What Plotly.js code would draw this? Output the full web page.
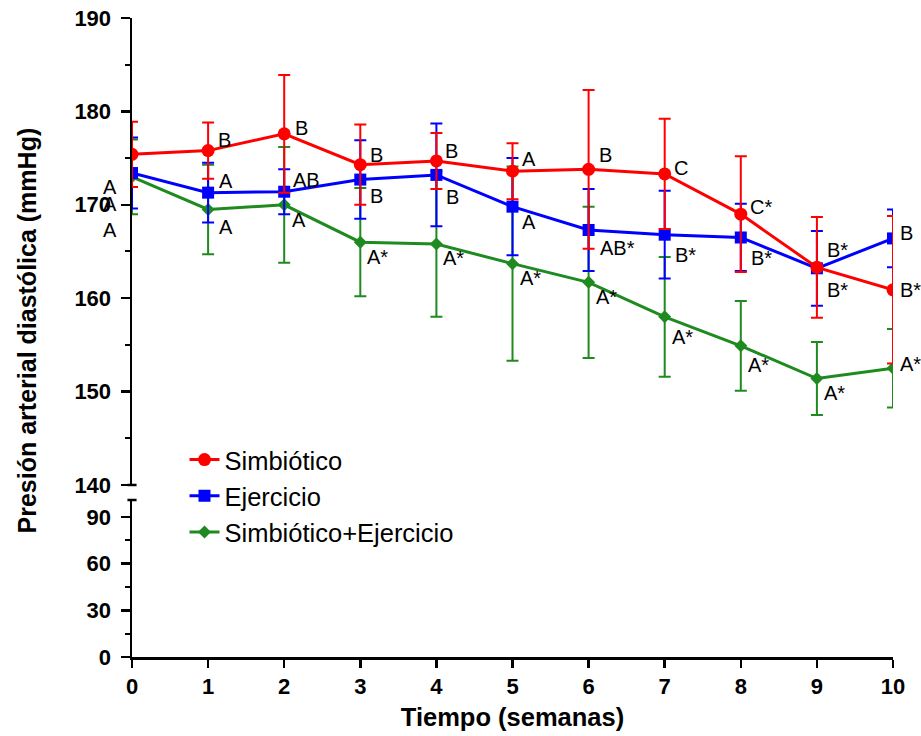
<!DOCTYPE html>
<html>
<head>
<meta charset="utf-8">
<script src="https://cdn.plot.ly/plotly-3.0.1.min.js"></script>
<style>html,body{margin:0;padding:0;background:#fff;}#chart{width:921px;height:736px;}</style>
</head>
<body>
<div id="chart"></div>
<script>
// ---- data ----
const weeks = [0, 1, 2, 3, 4, 5, 6, 7, 8, 9, 10];

const simbioticoMean = [175.4, 175.8, 177.6, 174.3, 174.7, 173.6, 173.8, 173.3, 169.0, 163.3, 160.9];
const simbioticoSD   = [3.5, 3.0, 6.3, 4.3, 3.0, 3.0, 8.5, 5.9, 6.2, 5.4, 7.9];
const simbioticoLetters = ['A', 'B', 'B', 'B', 'B', 'A', 'B', 'C', 'C*', 'B*', 'B*'];

const ejercicioMean = [173.4, 171.3, 171.4, 172.7, 173.2, 169.8, 167.3, 166.8, 166.5, 163.2, 166.4];
const ejercicioSD   = [3.8, 3.2, 2.4, 4.2, 5.5, 5.2, 4.4, 4.7, 3.6, 4.0, 3.1];
const ejercicioLetters = ['A', 'A', 'AB', 'B', 'B', 'A', 'AB*', 'B*', 'B*', 'B*', 'B'];

const combinadoMean = [173.0, 169.5, 170.0, 166.0, 165.8, 163.7, 161.7, 158.0, 154.9, 151.4, 152.5];
const combinadoSD   = [4.0, 4.8, 6.2, 5.8, 7.8, 10.4, 8.1, 6.4, 4.8, 3.9, 4.2];
const combinadoLetters = ['A', 'A', 'A', 'A*', 'A*', 'A*', 'A*', 'A*', 'A*', 'A*', 'A*'];

const seriesNames = ['Simbiótico', 'Ejercicio', 'Simbiótico+Ejercicio'];
const upperTicks = [140, 150, 160, 170, 180, 190];
const lowerTicks = [0, 30, 60, 90];

// ---- label placement (screen px: [dx, dy], dy positive = down) ----
const simbioticoLabelOffset = [[-13, 33], [8, -11], [9, -6], [8, -10], [7, -10], [7, -12], [8, -14], [7, -6], [7, -7], [8, -17], [5, 0]];
const ejercicioLabelOffset  = [[-13, 31], [9, -12], [7, -12], [8, 16], [8, 22], [7, 15], [9, 18], [8, 20], [8, 21], [8, 22], [5, -5]];
const combinadoLabelOffset  = [[-13, 53], [9, 18], [6, 15], [5, 15], [5, 14], [5, 14], [5, 15], [5, 20], [5, 19], [5, 14], [5, -4]];

const FONT = 'Liberation Sans, Arial, Helvetica, sans-serif';
const RED = '#ff0000', BLUE = '#0000ff', GREEN = '#1f8a1f';

function makeTrace(name, mean, sd, color, symbol, size) {
  return {
    type: 'scatter', mode: 'lines+markers', name: name,
    x: weeks, y: mean, xaxis: 'x', yaxis: 'y',
    line: {color: color, width: 3},
    marker: {color: color, symbol: symbol, size: size},
    error_y: {type: 'data', array: sd, visible: true, color: color, thickness: 2, width: 6}
  };
}

const traces = [
  makeTrace(seriesNames[2], combinadoMean, combinadoSD, GREEN, 'diamond', 10),
  makeTrace(seriesNames[1], ejercicioMean, ejercicioSD, BLUE, 'square', 12),
  makeTrace(seriesNames[0], simbioticoMean, simbioticoSD, RED, 'circle', 13),
  // invisible point so the lower axis is drawn
  {type: 'scatter', mode: 'markers', x: [weeks[0]], y: [lowerTicks[0]], xaxis: 'x', yaxis: 'y2',
   marker: {opacity: 0}, showlegend: false, hoverinfo: 'skip'}
];

const annotations = [];
function addLabels(mean, letters, offsets) {
  letters.forEach((t, i) => {
    const off = offsets[i];
    annotations.push({
      x: weeks[i], y: mean[i], xref: 'x', yref: 'y', text: t, showarrow: false,
      xanchor: off[0] < 0 ? 'right' : 'left', yanchor: 'middle',
      xshift: off[0], yshift: -off[1],
      font: {family: FONT, size: 20, color: '#000'}
    });
  });
}
addLabels(simbioticoMean, simbioticoLetters, simbioticoLabelOffset);
addLabels(ejercicioMean, ejercicioLetters, ejercicioLabelOffset);
addLabels(combinadoMean, combinadoLetters, combinadoLabelOffset);

annotations.push({
  xref: 'paper', yref: 'paper', x: -0.138, y: 0.511, xanchor: 'center', yanchor: 'middle',
  text: 'Presión arterial diastólica (mmHg)', textangle: -90, showarrow: false,
  font: {family: FONT, size: 25, color: '#000', weight: 700}
});

const tickFont = {family: FONT, size: 22, color: '#000', weight: 700};
const upperBottom = 0.2692, lowerTop = 0.2457;

const layout = {
  width: 921, height: 736,
  margin: {l: 132, r: 28, t: 18, b: 79},
  paper_bgcolor: '#fff', plot_bgcolor: '#fff',
  showlegend: true,
  legend: {
    x: 0.069, y: 0.345, xanchor: 'left', yanchor: 'top', traceorder: 'reversed',
    font: {family: FONT, size: 25.5, color: '#000'}, bgcolor: 'rgba(0,0,0,0)'
  },
  xaxis: {
    anchor: 'y2', range: [0, 10], tickvals: weeks, ticktext: weeks.map(String),
    showgrid: false, zeroline: false, showline: true, linecolor: '#000', linewidth: 2.5,
    ticks: 'outside', ticklen: 8, tickwidth: 2.5, tickcolor: '#000',
    tickfont: tickFont,
    title: {text: 'Tiempo (semanas)', font: {family: FONT, size: 25.5, color: '#000', weight: 700}, standoff: 10}
  },
  yaxis: {
    anchor: 'x', domain: [upperBottom, 1], range: [140, 190], tickvals: upperTicks,
    showgrid: false, zeroline: false, showline: true, linecolor: '#000', linewidth: 2.5,
    ticks: 'outside', ticklen: 9, tickwidth: 2.5, tickcolor: '#000', tickfont: tickFont,
    ticklabelstandoff: 5,
    minor: {dtick: 5, ticks: 'outside', ticklen: 5, tickwidth: 2, tickcolor: '#000', showgrid: false}
  },
  yaxis2: {
    anchor: 'x', domain: [0, lowerTop], range: [0, 101], tickvals: lowerTicks,
    showgrid: false, zeroline: false, showline: true, linecolor: '#000', linewidth: 2.5,
    ticks: 'outside', ticklen: 9, tickwidth: 2.5, tickcolor: '#000', tickfont: tickFont,
    ticklabelstandoff: 5,
    minor: {dtick: 15, ticks: 'outside', ticklen: 5, tickwidth: 2, tickcolor: '#000', showgrid: false}
  },
  shapes: [
    {type: 'line', xref: 'paper', yref: 'paper', x0: -0.006, x1: 0.006, y0: upperBottom, y1: upperBottom, line: {color: '#000', width: 2.5}},
    {type: 'line', xref: 'paper', yref: 'paper', x0: -0.006, x1: 0.006, y0: lowerTop, y1: lowerTop, line: {color: '#000', width: 2.5}}
  ],
  annotations: annotations
};

Plotly.newPlot('chart', traces, layout, {staticPlot: true, displayModeBar: false});
</script>
</body>
</html>
